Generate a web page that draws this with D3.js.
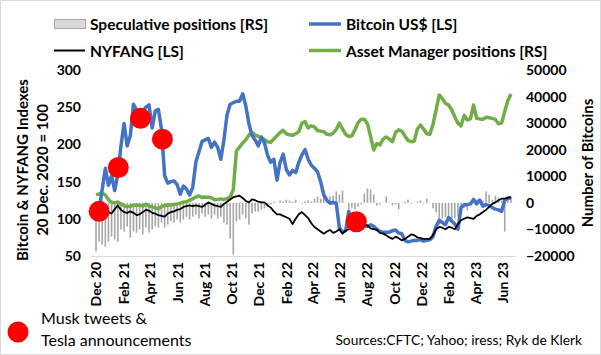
<!DOCTYPE html>
<html><head><meta charset="utf-8">
<script src="https://cdn.jsdelivr.net/npm/d3@7"></script>
<style>
body{margin:0;background:#fff;}
svg{display:block;font-family:Lato,"Open Sans",sans-serif;}
</style></head>
<body><svg id="c" width="601" height="355"></svg>
<script>
// ---- data (weekly, starting 20 Dec 2020) ----
const startDate = "2020-12-20";
const bitcoin = [100,112,140,168,145,158,138,160,198,228,
198,212,254,246,240,245,250,253,222,245,
247,220,158,148,150,151,146,133,144,140,
132,142,176,190,204,206,208,196,203,196,
180,206,240,254,256,258,258,268,252,228,
212,206,198,210,202,185,176,180,152,176,
187,166,159,165,162,176,186,193,180,172,
168,163,150,132,125,121,122,121,88,82,
84,110,95,96,98,95,90,90,92,90,
86,83,82,82,82,84,85,81,80,71,
69,70,71,71,72,70,71,72,76,90,
98,95,92,102,97,93,86,115,119,119,
120,126,120,125,117,119,118,115,113,112,
110,125,128,128];
const nyfang = [100,103,105,103,109,107,113,118,112,109,
108,110,108,105,106,109,112,111,108,107,
105,104,103,107,109,110,112,113,116,117,
118,117,118,117,116,119,122,120,118,117,
116,120,123,126,129,130,131,128,124,122,
126,125,123,122,122,118,115,110,106,106,
104,102,100,93,100,106,109,105,101,94,
89,86,83,80,83,85,81,83,86,80,
84,86,87,90,92,94,93,91,87,86,
85,81,80,78,75,73,76,74,71,73,
76,79,78,75,74,73,73,73,78,86,
89,88,86,89,88,86,93,98,100,102,
101,100,104,106,109,112,116,120,122,125,
127,127,128,129];
const assetManager = [3000,3400,3700,3000,1200,200,0,300,-400,-1000,
-1500,-1300,-900,-800,-900,-1200,-500,-1200,-1500,-1900,
-2200,-1400,-1000,-800,-800,-600,-400,-100,300,400,
1000,1500,2200,2600,2000,2200,2100,1900,1200,1300,
1500,1300,1600,2200,5000,19500,21000,22500,23700,25500,
26500,25600,25000,24500,23800,23000,22800,24000,25300,26500,
27300,26000,25600,25400,26000,26800,30000,30600,28200,29000,
28600,27200,27000,26800,25800,25600,26200,27600,30000,27800,
25800,25000,25200,27500,30200,31500,31500,29800,25000,19900,
22300,21800,24000,24800,24000,23000,26500,27500,27000,25200,
23500,23000,23300,27800,29300,27800,26000,25800,29500,35000,
40600,39200,37500,36800,35000,32300,30000,29000,33000,31200,
31600,36800,31800,31600,31500,32200,32000,31800,31400,29800,
30000,34500,38500,41000];
const speculative = [-18300,-14600,-15700,-16500,-14600,-12700,-13800,-14600,-10000,-10800,
-8900,-13100,-10800,-11200,-10000,-11900,-9300,-11200,-10000,-8900,
-9300,-7400,-9300,-8200,-7000,-7400,-6300,-7400,-6300,-5200,
-6300,-5200,-4400,-5900,-4000,-5200,-4400,-5900,-4400,-5900,
-5200,-7400,-8200,-13400,-19500,-7000,-6300,-4400,-5900,-8200,
-4000,-3300,-3300,-2500,-2100,-1000,-600,500,100,900,
500,1200,900,500,1200,100,-300,500,900,500,
1600,2400,1600,3100,1200,2400,2700,4300,3100,4600,
100,-2500,-1800,-2500,-1400,-600,3500,5400,5000,3100,
-1000,-600,100,2400,100,-1000,-600,-2500,100,500,
1200,-300,100,500,900,-300,1600,100,-2100,-3600,
-8200,-5900,-5200,-4800,-7000,-5900,-5200,-2100,-1800,-2900,
-1000,100,1200,900,900,4300,3100,1200,2700,2000,
900,-10800,1200,2400];
const muskDates = ["2020-12-27","2021-02-08","2021-03-30","2021-05-18","2022-07-27"];
const muskValues = [110,169,235,207,96];
const xTickDates = ["2020-12-20","2021-02-20","2021-04-20","2021-06-20","2021-08-20","2021-10-20","2021-12-20","2022-02-20","2022-04-20","2022-06-20","2022-08-20","2022-10-20","2022-12-20","2023-02-20","2023-04-20","2023-06-20"];
const leftTicks = [50,100,150,200,250,300];
const rightTicks = [-20000,-10000,0,10000,20000,30000,40000,50000];

// ---- setup ----
const parse = d3.utcParse("%Y-%m-%d");
const t0 = parse(startDate);
const weekDate = i => d3.utcDay.offset(t0, 7*i);
const svg = d3.select("#c");
svg.append("rect").attr("x",0.5).attr("y",0.5).attr("width",600).attr("height",354)
  .attr("fill","#fff").attr("stroke","#d9d9d9");

const x = d3.scaleUtc().domain([t0, weekDate(133)]).range([96, 511]);
const yL = d3.scaleLinear().domain([50,300]).range([256,70]);
const yR = d3.scaleLinear().domain([-20000,50000]).range([256,70]);

// bars
svg.append("g").selectAll("rect").data(speculative).join("rect")
  .attr("x",(d,i)=>x(weekDate(i))-0.8).attr("width",1.6)
  .attr("y",d=>Math.min(yR(d),yR(0))).attr("height",d=>Math.abs(yR(d)-yR(0)))
  .attr("fill","#a6a6a6");

// x axis line
svg.append("line").attr("x1",91).attr("x2",516).attr("y1",256.5).attr("y2",256.5)
  .attr("stroke","#d9d9d9").attr("stroke-width",1);

const line = (scale)=>d3.line().x((d,i)=>x(weekDate(i))).y(d=>scale(d));
svg.append("path").datum(assetManager).attr("d",line(yR)).attr("fill","none")
  .attr("stroke","#70ad47").attr("stroke-width",3.5).attr("stroke-linejoin","round");
svg.append("path").datum(bitcoin).attr("d",line(yL)).attr("fill","none")
  .attr("stroke","#4472c4").attr("stroke-width",3.5).attr("stroke-linejoin","round");
svg.append("path").datum(nyfang).attr("d",line(yL)).attr("fill","none")
  .attr("stroke","#000").attr("stroke-width",1.8).attr("stroke-linejoin","round");

// musk dots
svg.append("g").selectAll("circle").data(muskDates).join("circle")
  .attr("cx",d=>x(parse(d))).attr("cy",(d,i)=>yL(muskValues[i])).attr("r",10.5)
  .attr("fill","#ff0000");

// axes
const gl = svg.append("g").attr("transform","translate(87,0)")
  .call(d3.axisLeft(yL).tickValues(leftTicks).tickSize(0).tickPadding(6));
const gr = svg.append("g").attr("transform","translate(520,0)")
  .call(d3.axisRight(yR).tickValues(rightTicks).tickFormat(d3.format("d")).tickSize(0).tickPadding(6));
const gx = svg.append("g").attr("transform","translate(0,256)")
  .call(d3.axisBottom(x).tickValues(xTickDates.map(parse)).tickFormat(d3.utcFormat("%b %y")).tickSize(0));
[gl,gr,gx].forEach(g=>{
  g.select(".domain").remove();
  g.selectAll("text").attr("font-family","Lato, 'Open Sans', sans-serif")
   .attr("font-size",14).attr("font-weight","bold").attr("fill","#000");
});
gx.selectAll("text").attr("transform","rotate(-90)").attr("y",0).attr("x",-6)
  .attr("dy","0.35em").attr("text-anchor","end");

// axis titles
const title = (txt,xx,yy)=>svg.append("text").attr("transform",`translate(${xx},${yy}) rotate(-90)`)
  .attr("text-anchor","middle").attr("dominant-baseline","central")
  .attr("font-size",15).attr("font-weight","bold").text(txt);
title("Bitcoin & NYFANG Indexes",22,170);
title("20 Dec. 2020 = 100",42,170);
title("Number of Bitcoins",587,163);

// legend
const lg = svg.append("g").attr("font-size",15.5).attr("font-weight","bold");
lg.append("rect").attr("x",54.5).attr("y",19.5).attr("width",31).attr("height",9)
  .attr("fill","#d9d9d9").attr("stroke","#a6a6a6");
lg.append("text").attr("x",90).attr("y",24).attr("dominant-baseline","central").text("Speculative positions [RS]");
lg.append("line").attr("x1",309).attr("x2",341).attr("y1",24).attr("y2",24).attr("stroke","#4472c4").attr("stroke-width",3.5);
lg.append("text").attr("x",346).attr("y",24).attr("dominant-baseline","central").text("Bitcoin US$ [LS]");
lg.append("line").attr("x1",54).attr("x2",85).attr("y1",50.5).attr("y2",50.5).attr("stroke","#000").attr("stroke-width",2);
lg.append("text").attr("x",90).attr("y",50.5).attr("dominant-baseline","central").text("NYFANG [LS]");
lg.append("line").attr("x1",309).attr("x2",341).attr("y1",50.5).attr("y2",50.5).attr("stroke","#70ad47").attr("stroke-width",3.5);
lg.append("text").attr("x",346).attr("y",50.5).attr("dominant-baseline","central").text("Asset Manager positions [RS]");

// bottom legend
svg.append("circle").attr("cx",18).attr("cy",332).attr("r",10.5).attr("fill","#ff0000");
svg.append("text").attr("x",41).attr("y",317).attr("dominant-baseline","central").attr("font-size",16).text("Musk tweets &");
svg.append("text").attr("x",41).attr("y",339).attr("dominant-baseline","central").attr("font-size",16).text("Tesla announcements");
svg.append("text").attr("x",582).attr("y",339).attr("text-anchor","end").attr("dominant-baseline","central").attr("font-size",13.8).text("Sources:CFTC; Yahoo; iress; Ryk de Klerk");
</script></body></html>
